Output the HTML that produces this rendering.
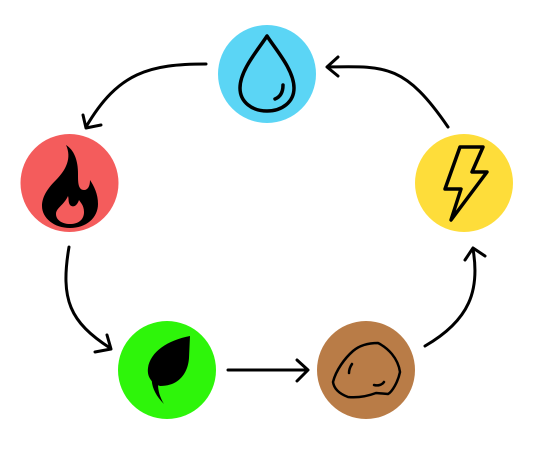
<!DOCTYPE html>
<html><head><style>html,body{margin:0;padding:0;background:#fff;}svg{display:block}</style></head>
<body>
<svg width="546" height="457" viewBox="0 0 546 457" xmlns="http://www.w3.org/2000/svg">
<g fill="none" stroke="#000" stroke-width="3" stroke-linecap="round" stroke-linejoin="round">
  <path d="M206,64 C150,64 118,72 86,127"/>
  <path d="M83,115 L86,128 L101,125"/>
  <path d="M448,127 C405,64 385,66 328,67"/>
  <path d="M338,57 L327,67 L338,76"/>
  <path d="M69,247 C60,300 70,322 110,348"/>
  <path d="M107,335 L111,349 L95,352"/>
  <path d="M228,370 L307,370"/>
  <path d="M297,360 L308,370 L297,381"/>
  <path d="M425,346 C470,320 480,290 473,249"/>
  <path d="M465,260 L473,248 L485,256"/>
</g>
<circle cx="267" cy="74" r="49" fill="#5bd5f5"/>
<circle cx="69.5" cy="183" r="49" fill="#f45c5c"/>
<circle cx="464" cy="183" r="49" fill="#fedd3a"/>
<circle cx="167" cy="370" r="49" fill="#2ef50a"/>
<circle cx="366" cy="370" r="49" fill="#b97c47"/>
<!-- water drop -->
<g fill="none" stroke="#000" stroke-width="3.5" stroke-linecap="round" stroke-linejoin="round">
  <path d="M267,36 C258,50 240,70 240,88 C240,102 252,111 267,111 C282,111 294,102 294,88 C294,70 276,50 267,36 Z"/>
  <path d="M283,85 C283,93 280,97 275,99"/>
</g>
<!-- fire -->
<path d="M66,145 C72,158 66,170 56,180 C46,190 42,198 42,206 C42,218 54,228 70,228 C86,228 98,218 98,204 C98,194 94,186 90,180 C90,186 88,190 84,190 C78,190 78,182 78,174 C78,160 74,150 66,145 Z" fill="#000"/>
<path d="M68,196 C64,205 56,208 56,214 C56,220 62,224 70,224 C78,224 84,220 84,212 C84,205 80,202 79,200 C77,206 73,208 70,205 C68,202 69,199 68,196 Z" fill="#f45c5c"/>
<!-- lightning -->
<path d="M460,147 L483,147 L472,172 L487,172 L451,220 L461,189 L445,189 Z" fill="none" stroke="#000" stroke-width="3.5" stroke-linejoin="round"/>
<!-- leaf -->
<path d="M190,336 C168,340 150,352 148,368 C147,375 150,383 160,386 C180,386 188,372 189,358 Z" fill="#000"/>
<path d="M172,360 C160,368 152,384 164,404 C150,390 148,375 158,364 Z" fill="#000"/>
<!-- rock -->
<g fill="none" stroke="#000" stroke-width="2.5" stroke-linecap="round" stroke-linejoin="round">
  <path d="M353,351 C360,345 370,343 378,343 C388,348 398,358 400,372 C398,382 392,392 388,394 L376,393 C368,396 358,398 348,397 C340,394 334,389 333,382 C336,370 345,358 353,351 Z"/>
  <path d="M352,364 C350,367 349,370 349,373"/>
  <path d="M374,385 C378,386 382,385 384,382"/>
</g>
</svg>
</body></html>
